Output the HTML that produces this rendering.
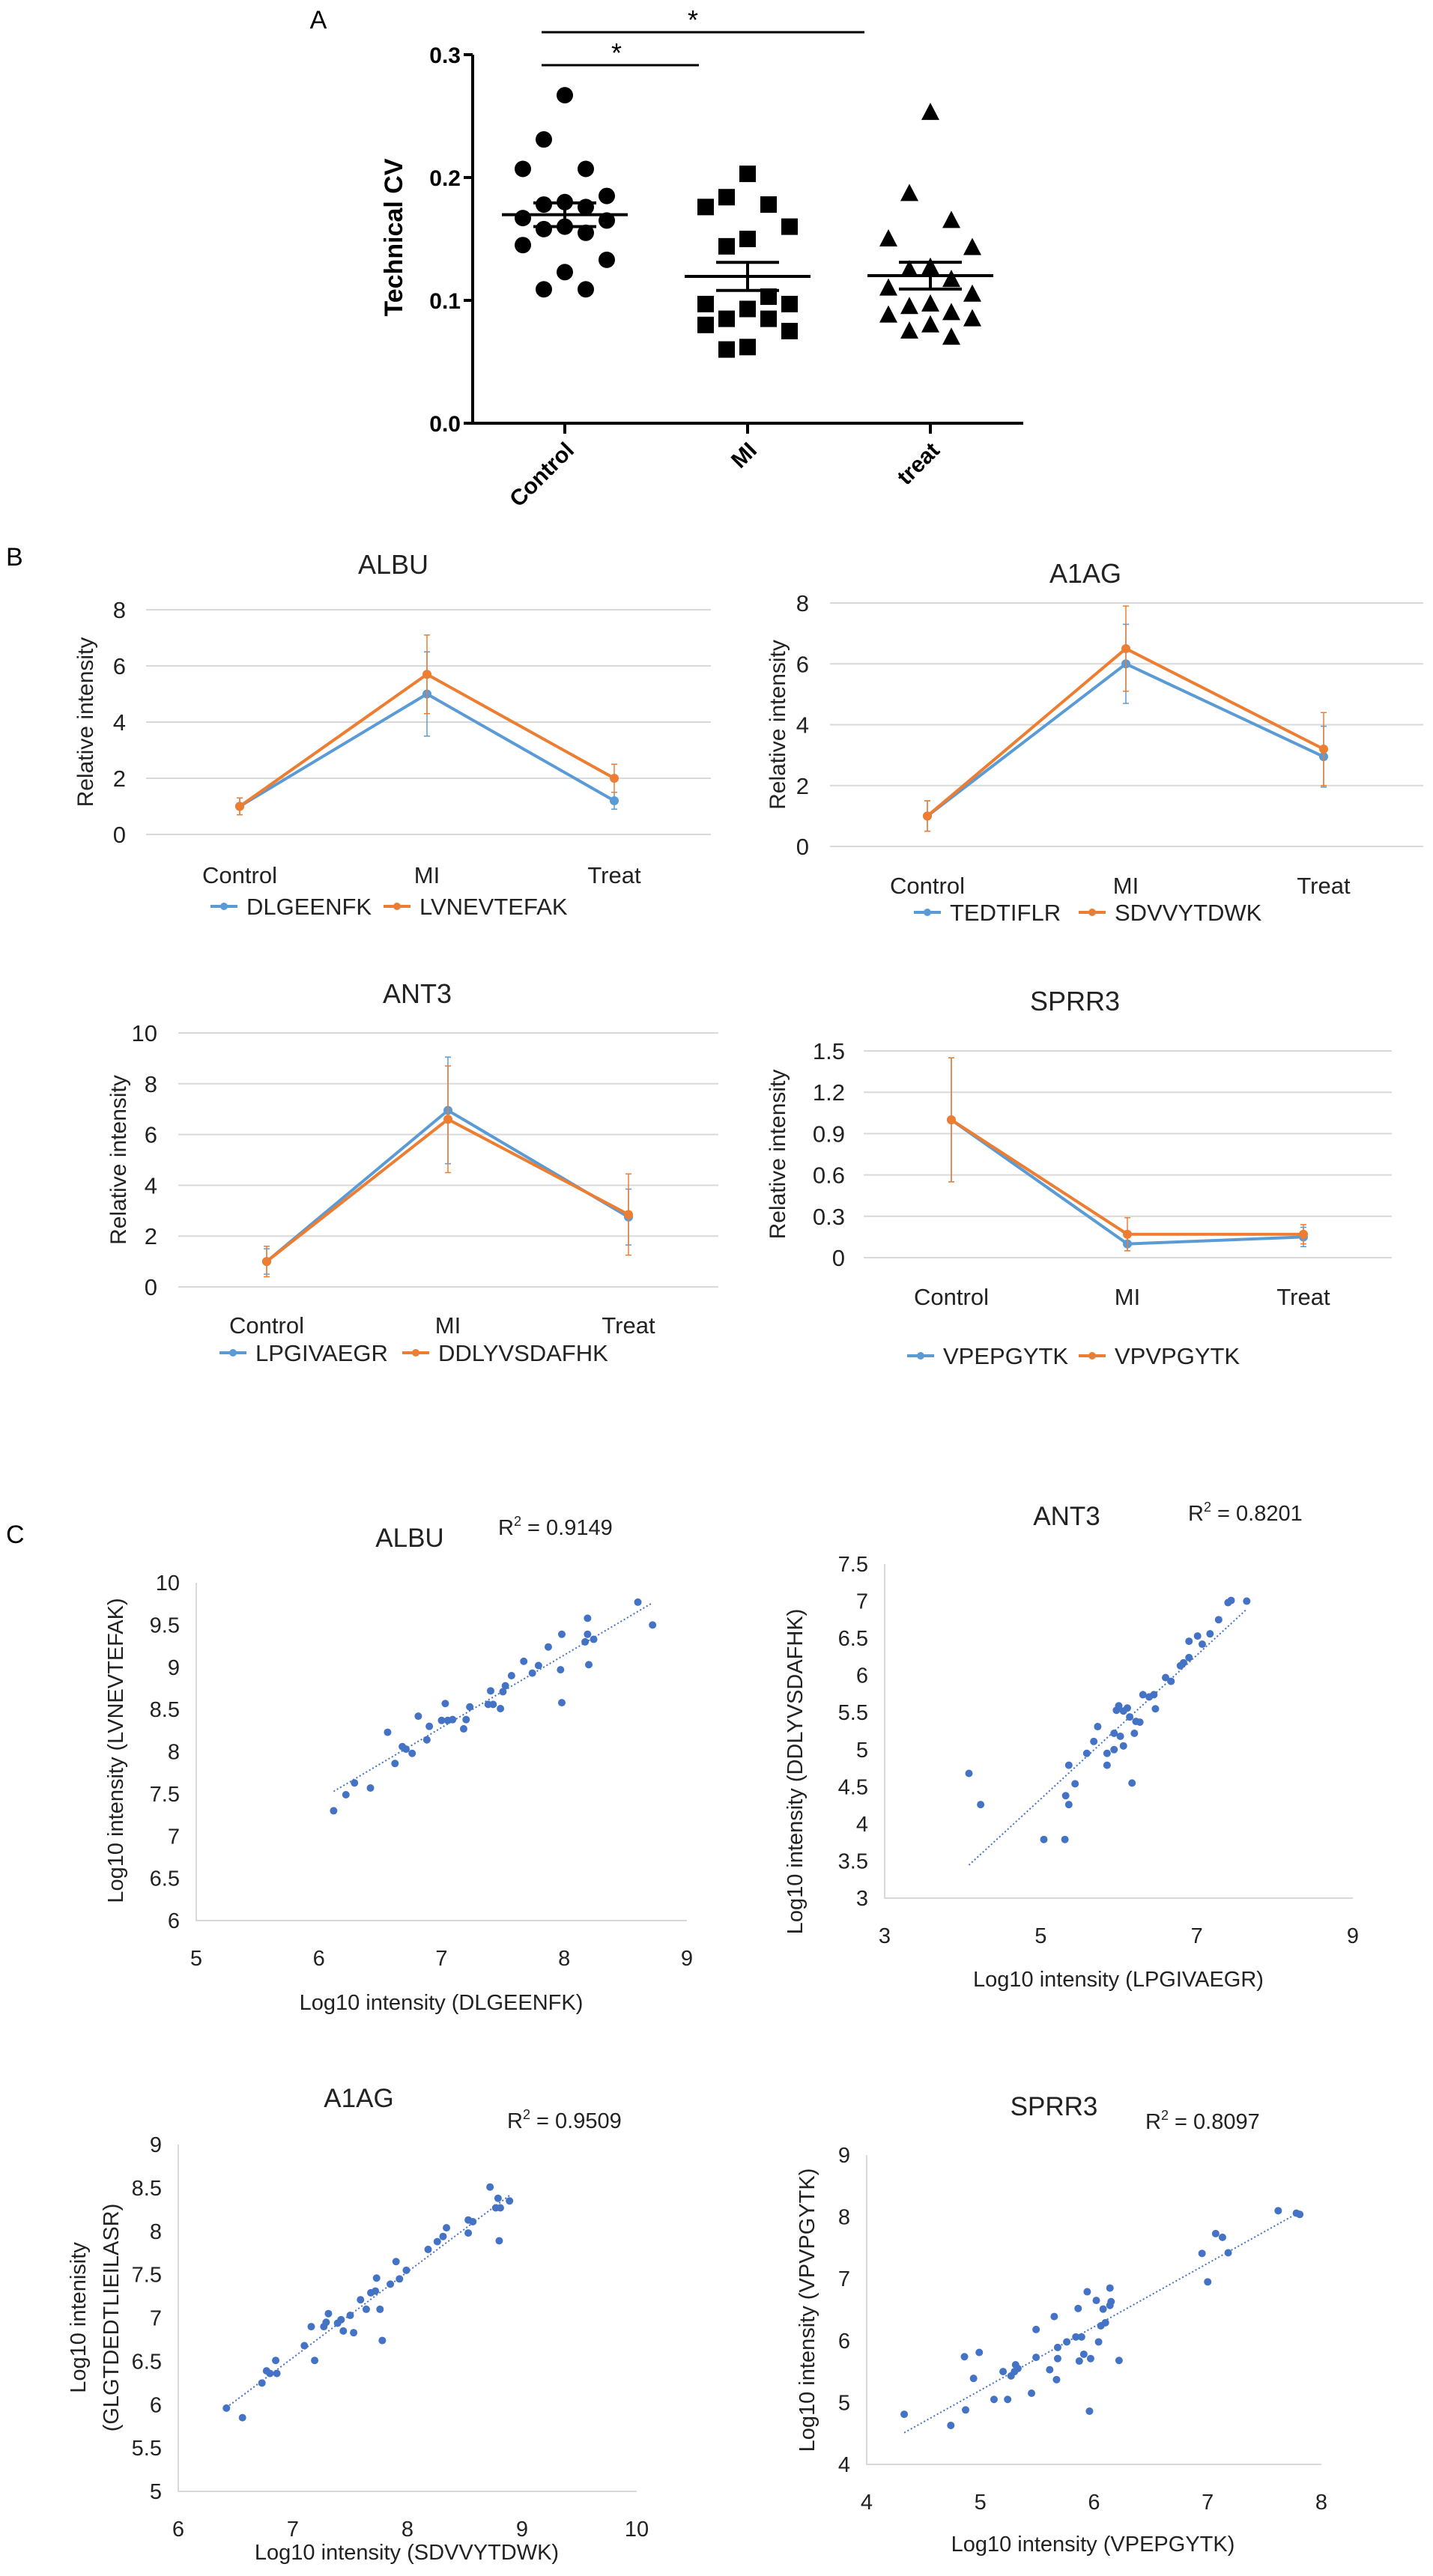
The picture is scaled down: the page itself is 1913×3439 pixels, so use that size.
<!DOCTYPE html>
<html><head><meta charset="utf-8"><style>
html,body{margin:0;padding:0;background:#fff}
svg{display:block}
text{font-family:"Liberation Sans",sans-serif}
</style></head><body>
<svg id="fig" width="1913" height="3439" viewBox="0 0 1913 3439" xmlns="http://www.w3.org/2000/svg">
<rect width="1913" height="3439" fill="#fff"/>
<g id="pA"></g>
<g id="pB"></g>
<g id="pC"></g>
</svg>
<script>
// ---------- Panel A data ----------
const aCategories = ["Control","MI","treat"];
const aControl = [0.267,0.231,0.207,0.207,0.185,0.180,0.178,0.176,0.167,0.165,0.160,0.158,0.155,0.145,0.133,0.123,0.109,0.109];
const aMI = [0.203,0.184,0.178,0.176,0.160,0.150,0.144,0.103,0.097,0.097,0.093,0.085,0.085,0.080,0.075,0.062,0.060];
const aTreat = [0.253,0.187,0.165,0.150,0.143,0.127,0.125,0.117,0.110,0.105,0.097,0.095,0.090,0.088,0.085,0.080,0.075,0.070];
const aTicks = ["0.0","0.1","0.2","0.3"];

// ---------- Panel B data ----------
const bCats = ["Control","MI","Treat"];
const albuBlue = [1.0,5.0,1.2], albuBlueErr = [0.3,1.5,0.3];
const albuOrange = [1.0,5.7,2.0], albuOrangeErr = [0.3,1.4,0.5];
const a1agBlue = [1.0,6.0,2.95], a1agBlueErr = [0.5,1.3,1.0];
const a1agOrange = [1.0,6.5,3.2], a1agOrangeErr = [0.5,1.4,1.2];
const ant3Blue = [1.0,6.95,2.75], ant3BlueErr = [0.5,2.1,1.1];
const ant3Orange = [1.0,6.6,2.85], ant3OrangeErr = [0.6,2.1,1.6];
const sprrBlue = [1.0,0.10,0.15], sprrBlueErr = [0.45,0.05,0.07];
const sprrOrange = [1.0,0.17,0.17], sprrOrangeErr = [0.45,0.12,0.07];
const ticks0to8 = ["0","2","4","6","8"];
const ticks0to10 = ["0","2","4","6","8","10"];
const ticksSprr = ["0","0.3","0.6","0.9","1.2","1.5"];

// ---------- Panel C data ----------
const albuX = [6.12,6.22,6.29,6.42,6.56,6.62,6.68,6.71,6.76,6.81,6.88,6.90,7.00,7.03,7.05,7.09,7.18,7.20,7.23,7.38,7.40,7.42,7.48,7.50,7.52,7.57,7.67,7.74,7.79,7.87,7.97,7.98,7.98,8.17,8.19,8.19,8.20,8.24,8.60,8.72];
const albuY = [7.30,7.49,7.63,7.57,8.23,7.86,8.06,8.03,7.98,8.42,8.14,8.30,8.37,8.57,8.37,8.38,8.27,8.38,8.53,8.56,8.72,8.56,8.51,8.71,8.78,8.90,9.07,8.93,9.02,9.24,8.97,8.58,9.39,9.30,9.58,9.39,9.03,9.33,9.77,9.50];
const ant3X = [4.08,4.23,5.04,5.31,5.32,5.36,5.36,5.44,5.59,5.68,5.73,5.85,5.85,5.94,5.94,5.97,6.00,6.02,6.06,6.06,6.11,6.14,6.17,6.20,6.22,6.27,6.31,6.39,6.45,6.47,6.60,6.67,6.79,6.83,6.90,6.90,7.01,7.07,7.17,7.28,7.40,7.44,7.64];
const ant3Y = [4.68,4.26,3.79,3.79,4.38,4.26,4.79,4.54,4.95,5.11,5.31,4.79,4.95,5.00,5.22,5.53,5.59,5.18,5.52,5.05,5.56,5.44,4.55,5.22,5.38,5.37,5.74,5.71,5.74,5.55,5.97,5.92,6.13,6.17,6.24,6.46,6.53,6.42,6.56,6.75,6.98,7.01,7.00];
const a1agX = [6.42,6.56,6.73,6.77,6.80,6.85,6.86,7.10,7.16,7.19,7.27,7.29,7.31,7.39,7.42,7.44,7.50,7.53,7.59,7.64,7.68,7.72,7.73,7.76,7.78,7.85,7.90,7.93,7.99,8.18,8.26,8.31,8.34,8.53,8.53,8.57,8.72,8.77,8.79,8.80,8.81,8.89];
const a1agY = [5.96,5.85,6.25,6.39,6.36,6.51,6.36,6.68,6.90,6.51,6.90,6.95,7.05,6.94,6.98,6.85,7.03,6.83,7.21,7.10,7.29,7.31,7.46,7.10,6.74,7.39,7.65,7.45,7.55,7.79,7.88,7.94,8.04,7.98,8.13,8.11,8.51,8.27,8.38,7.89,8.27,8.35];
const sprrX = [4.33,4.74,4.86,4.87,4.94,4.99,5.12,5.20,5.24,5.27,5.30,5.31,5.33,5.45,5.49,5.49,5.61,5.65,5.67,5.68,5.68,5.76,5.84,5.86,5.87,5.89,5.91,5.94,5.96,5.97,6.02,6.04,6.06,6.08,6.10,6.14,6.14,6.15,6.22,6.95,7.00,7.07,7.13,7.18,7.62,7.78,7.81];
const sprrY = [4.81,4.63,5.74,4.88,5.39,5.81,5.05,5.50,5.05,5.43,5.50,5.61,5.55,5.15,5.73,6.18,5.53,6.39,5.37,5.71,5.89,5.98,6.06,6.52,5.67,6.06,5.78,6.79,4.86,5.71,6.65,5.98,6.24,6.51,6.29,6.57,6.85,6.63,5.68,7.41,6.95,7.73,7.67,7.42,8.10,8.06,8.04];
const albuXTicks=["5","6","7","8","9"], albuYTicks=["6","6.5","7","7.5","8","8.5","9","9.5","10"];
const ant3XTicks=["3","5","7","9"], ant3YTicks=["3","3.5","4","4.5","5","5.5","6","6.5","7","7.5"];
const a1agXTicks=["6","7","8","9","10"], a1agYTicks=["5","5.5","6","6.5","7","7.5","8","8.5","9"];
const sprrXTicks=["4","5","6","7","8"], sprrYTicks=["4","5","6","7","8","9"];

const NS="http://www.w3.org/2000/svg";
function mk(parent,tag,attrs,txt){const e=document.createElementNS(NS,tag);for(const k in attrs)e.setAttribute(k,attrs[k]);if(txt!==undefined)e.textContent=txt;parent.appendChild(e);return e;}
const BLUE="#5b9bd5", ORANGE="#ed7d31", GRID="#d9d9d9";

// ---------- Panel A ----------
(function(){
  const g=document.getElementById('pA');
  const x0=631,x1=1366,yTop=73,yBot=565,vMax=0.3;
  const y=v=>yBot-(v/vMax)*(yBot-yTop);
  const cx=[754,998,1242];
  let t=mk(g,'text',{x:425,y:38,'font-size':34,fill:'#000','text-anchor':'middle'},'A');
  
  let ax=mk(g,'path',{d:`M${x0} ${yTop}V${yBot}H${x1}`,stroke:'#000','stroke-width':4,fill:'none'});
  
  aTicks.forEach(s=>{const v=parseFloat(s);const yy=y(v);
    mk(g,'line',{x1:x0-12,x2:x0,y1:yy,y2:yy,stroke:'#000','stroke-width':4});
    const tl=mk(g,'text',{x:x0-16,y:yy+11,'font-size':30,'font-weight':'bold','text-anchor':'end'},s);
    });
  const yt=mk(g,'text',{x:0,y:0,'font-size':34,'font-weight':'bold','text-anchor':'middle',transform:`translate(537,317) rotate(-90)`},'Technical CV');
  
  aCategories.forEach((c,i)=>{
    mk(g,'line',{x1:cx[i],x2:cx[i],y1:yBot,y2:yBot+14,stroke:'#000','stroke-width':4});
    const tl=mk(g,'text',{x:0,y:0,'font-size':30,'font-weight':'bold','text-anchor':'end',transform:`translate(${cx[i]+14},${yBot+38}) rotate(-45)`},c);
    });
  // significance
  [[723,933,87,823],[723,1154,43,925]].forEach(b=>{
    const l=mk(g,'line',{x1:b[0],x2:b[1],y1:b[2],y2:b[2],stroke:'#000','stroke-width':3});
    
    mk(g,'text',{x:b[3],y:b[2]-4,'font-size':36,'text-anchor':'middle'},'*');});
  const groups=[aControl,aMI,aTreat], shapes=['circle','square','triangle'];
  groups.forEach((arr,gi)=>{
    const sorted=arr.slice();
    sorted.forEach((v,i)=>{
      const k=i%5, off=[0,-1,1,-2,2][k]*28;
      const px=cx[gi]+off, py=y(v);
      let m;
      if(shapes[gi]==='circle') m=mk(g,'circle',{cx:px,cy:py,r:11,fill:'#000'});
      else if(shapes[gi]==='square') m=mk(g,'rect',{x:px-11,y:py-11,width:22,height:22,fill:'#000'});
      else m=mk(g,'path',{d:`M${px} ${py-13}L${px+12} ${py+10}L${px-12} ${py+10}Z`,fill:'#000'});
      
      
    });
    const n=arr.length, mean=arr.reduce((a,b)=>a+b,0)/n;
    const sd=Math.sqrt(arr.reduce((a,b)=>a+(b-mean)**2,0)/(n-1)), sem=sd/Math.sqrt(n);
    const ml=mk(g,'line',{x1:cx[gi]-84,x2:cx[gi]+84,y1:y(mean),y2:y(mean),stroke:'#000','stroke-width':4});
    
    mk(g,'line',{x1:cx[gi],x2:cx[gi],y1:y(mean+sem),y2:y(mean-sem),stroke:'#000','stroke-width':4});
    [mean+sem,mean-sem].forEach(v=>mk(g,'line',{x1:cx[gi]-42,x2:cx[gi]+42,y1:y(v),y2:y(v),stroke:'#000','stroke-width':4}));
  });
})();

// ---------- Panel B ----------
function lineChart(c){
  const g=mk(document.getElementById('pB'),'g',{});
  
  
  const nT=c.ticks.length, vMax=parseFloat(c.ticks[nT-1]);
  const y=v=>c.y0-(v/vMax)*(c.y0-c.yT);
  const t=mk(g,'text',{x:c.tx,y:c.ty,'font-size':36,'text-anchor':'middle',fill:'#222'},c.title);
  
  c.ticks.forEach(s=>{const yy=y(parseFloat(s));
    const gl=mk(g,'line',{x1:c.gx0,x2:c.gx1,y1:yy,y2:yy,stroke:GRID,'stroke-width':2});
    
    const tl=mk(g,'text',{x:c.tlx,y:yy+11,'font-size':31,'text-anchor':'end',fill:'#222'},s);
    });
  const yt=mk(g,'text',{x:0,y:0,'font-size':30,'text-anchor':'middle',fill:'#222',transform:`translate(${c.ytx},${(c.y0+c.yT)/2}) rotate(-90)`},'Relative intensity');
  
  bCats.forEach((s,i)=>{const tl=mk(g,'text',{x:c.cx[i],y:c.cly,'font-size':31,'text-anchor':'middle',fill:'#222'},s);
    });
  c.series.forEach(sr=>{
    const pts=sr.v.map((v,i)=>[c.cx[i],y(v)]);
    sr.v.forEach((v,i)=>{
      const e=mk(g,'line',{x1:c.cx[i],x2:c.cx[i],y1:y(v+sr.e[i]),y2:y(v-sr.e[i]),stroke:sr.col,'stroke-width':1.5});
      
      [v+sr.e[i],v-sr.e[i]].forEach(w=>mk(g,'line',{x1:c.cx[i]-4,x2:c.cx[i]+4,y1:y(w),y2:y(w),stroke:sr.col,'stroke-width':1.5}));
    });
    const pl=mk(g,'polyline',{points:pts.map(p=>p.join(',')).join(' '),fill:'none',stroke:sr.col,'stroke-width':4});
    
    pts.forEach(p=>{const m=mk(g,'circle',{cx:p[0],cy:p[1],r:6,fill:sr.col});
      });
  });
  c.series.forEach((sr,k)=>{
    const lx=c.leg[k];
    const lg=mk(g,'g',{});
    
    mk(lg,'line',{x1:lx,x2:lx+36,y1:c.legy,y2:c.legy,stroke:sr.col,'stroke-width':4});
    mk(lg,'circle',{cx:lx+18,cy:c.legy,r:5,fill:sr.col});
    mk(lg,'text',{x:lx+48,y:c.legy+11,'font-size':31,fill:'#222'},sr.name);
  });
}
lineChart({title:'ALBU',tx:525,ty:766,gx0:195,gx1:949,y0:1114,yT:814,ticks:ticks0to8,tlx:168,ytx:124,cx:[320,570,820],cly:1179,legy:1210,leg:[281,512],
  series:[{name:'DLGEENFK',col:BLUE,v:albuBlue,e:albuBlueErr},{name:'LVNEVTEFAK',col:ORANGE,v:albuOrange,e:albuOrangeErr}]});
lineChart({title:'A1AG',tx:1449,ty:778,gx0:1108,gx1:1900,y0:1130,yT:805,ticks:ticks0to8,tlx:1080,ytx:1048,cx:[1238,1503,1767],cly:1193,legy:1218,leg:[1220,1440],
  series:[{name:'TEDTIFLR',col:BLUE,v:a1agBlue,e:a1agBlueErr},{name:'SDVVYTDWK',col:ORANGE,v:a1agOrange,e:a1agOrangeErr}]});
lineChart({title:'ANT3',tx:557,ty:1339,gx0:238,gx1:959,y0:1718,yT:1379,ticks:ticks0to10,tlx:210,ytx:168,cx:[356,598,839],cly:1780,legy:1806,leg:[293,537],
  series:[{name:'LPGIVAEGR',col:BLUE,v:ant3Blue,e:ant3BlueErr},{name:'DDLYVSDAFHK',col:ORANGE,v:ant3Orange,e:ant3OrangeErr}]});
lineChart({title:'SPRR3',tx:1435,ty:1349,gx0:1153,gx1:1858,y0:1679,yT:1403,ticks:ticksSprr,tlx:1128,ytx:1048,cx:[1270,1505,1740],cly:1742,legy:1810,leg:[1211,1440],
  series:[{name:'VPEPGYTK',col:BLUE,v:sprrBlue,e:sprrBlueErr},{name:'VPVPGYTK',col:ORANGE,v:sprrOrange,e:sprrOrangeErr}]});
(function(){const t=mk(document.getElementById('pB'),'text',{x:8,y:755,'font-size':34,fill:'#000'},'B');
  })();

// ---------- Panel C ----------
function scatter(c){
  const g=mk(document.getElementById('pC'),'g',{});
  
  
  const xa=parseFloat(c.xt[0]), xb=parseFloat(c.xt[c.xt.length-1]);
  const ya=parseFloat(c.yt[0]), yb=parseFloat(c.yt[c.yt.length-1]);
  const X=v=>c.x0+(v-xa)/(xb-xa)*(c.x1-c.x0);
  const Y=v=>c.y0-(v-ya)/(yb-ya)*(c.y0-c.y1);
  const ax=mk(g,'path',{d:`M${c.x0} ${c.y1}V${c.y0}H${c.x1}`,stroke:GRID,'stroke-width':2,fill:'none'});
  
  c.xt.forEach(s=>{const tl=mk(g,'text',{x:X(parseFloat(s)),y:c.y0+60,'font-size':29,'text-anchor':'middle',fill:'#222'},s);
    });
  c.yt.forEach(s=>{const tl=mk(g,'text',{x:c.x0-22,y:Y(parseFloat(s))+10,'font-size':29,'text-anchor':'end',fill:'#222'},s);
    });
  const t=mk(g,'text',{x:c.tx,y:c.ty,'font-size':35,'text-anchor':'middle',fill:'#222'},c.title);
  
  const r=mk(g,'text',{x:c.rx,y:c.ry,'font-size':29,fill:'#222'});
  
  mk(r,'tspan',{},'R');mk(r,'tspan',{'font-size':18,dy:-12},'2');mk(r,'tspan',{dy:12},' = '+c.r2);
  const xt=mk(g,'text',{x:c.xtx,y:c.xty,'font-size':29,'text-anchor':'middle',fill:'#222'},c.xlab);
  
  c.ylab.forEach((l,i)=>{const yt=mk(g,'text',{x:0,y:0,'font-size':29,'text-anchor':'middle',fill:'#222',transform:`translate(${c.ytx[i]},${c.yty}) rotate(-90)`},l);
    });
  // regression
  const n=c.xs.length,mx=c.xs.reduce((a,b)=>a+b,0)/n,my=c.ys.reduce((a,b)=>a+b,0)/n;
  let sxy=0,sxx=0;for(let i=0;i<n;i++){sxy+=(c.xs[i]-mx)*(c.ys[i]-my);sxx+=(c.xs[i]-mx)**2;}
  const b=sxy/sxx,a=my-b*mx,xmin=Math.min(...c.xs),xmax=Math.max(...c.xs);
  const tr=mk(g,'line',{x1:X(xmin),y1:Y(a+b*xmin),x2:X(xmax),y2:Y(a+b*xmax),stroke:'#4472c4','stroke-width':2,'stroke-dasharray':'2,3'});
  
  c.xs.forEach((v,i)=>{const p=mk(g,'circle',{cx:X(v),cy:Y(c.ys[i]),r:5,fill:'#4472c4'});
    });
}
scatter({title:'ALBU',tx:547,ty:2065,rx:665,ry:2049,r2:'0.9149',x0:262,x1:917,y0:2564,y1:2113,xt:albuXTicks,yt:albuYTicks,xs:albuX,ys:albuY,
  xlab:'Log10 intensity (DLGEENFK)',xtx:589,xty:2683,ylab:['Log10 intensity (LVNEVTEFAK)'],ytx:[164],yty:2337});
scatter({title:'ANT3',tx:1424,ty:2036,rx:1586,ry:2030,r2:'0.8201',x0:1181,x1:1806,y0:2534,y1:2088,xt:ant3XTicks,yt:ant3YTicks,xs:ant3X,ys:ant3Y,
  xlab:'Log10 intensity (LPGIVAEGR)',xtx:1493,xty:2652,ylab:['Log10 intensity (DDLYVSDAFHK)'],ytx:[1071],yty:2365});
scatter({title:'A1AG',tx:479,ty:2813,rx:677,ry:2841,r2:'0.9509',x0:238,x1:850,y0:3326,y1:2863,xt:a1agXTicks,yt:a1agYTicks,xs:a1agX,ys:a1agY,
  xlab:'Log10 intensity (SDVVYTDWK)',xtx:543,xty:3417,ylab:['Log10 intenisity','(GLGTDEDTLIEILASR)'],ytx:[114,158],yty:3094});
scatter({title:'SPRR3',tx:1407,ty:2824,rx:1529,ry:2842,r2:'0.8097',x0:1157,x1:1764,y0:3290,y1:2877,xt:sprrXTicks,yt:sprrYTicks,xs:sprrX,ys:sprrY,
  xlab:'Log10 intensity (VPEPGYTK)',xtx:1459,xty:3406,ylab:['Log10 intensity (VPVPGYTK)'],ytx:[1087],yty:3084});
(function(){const t=mk(document.getElementById('pC'),'text',{x:8,y:2060,'font-size':34,fill:'#000'},'C');
  })();
</script>
</body></html>
